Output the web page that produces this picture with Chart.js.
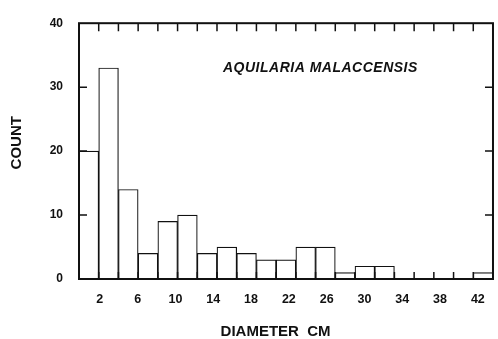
<!DOCTYPE html>
<html>
<head>
<meta charset="utf-8">
<script src="https://cdn.jsdelivr.net/npm/chart.js@4"></script>
<style>
  body { margin: 0; background: #fff; }
  #wrap { width: 498px; height: 339px; }
</style>
</head>
<body>
<div id="wrap"><canvas id="chartContainer"></canvas></div>
<script>
// bin centres (cm), bins are 2 cm wide
var diameters = [1, 3, 5, 7, 9, 11, 13, 15, 17, 19, 21, 23, 25, 27, 29, 31, 33, 35, 37, 39, 41];
var counts    = [20, 33, 14, 4, 9, 10, 4, 5, 4, 3, 3, 5, 5, 1, 2, 2, 0, 0, 0, 0, 1];
var xTickLabels = [2, 6, 10, 14, 18, 22, 26, 30, 34, 38, 42];
var yTickLabels = [0, 10, 20, 30, 40];
var species = 'AQUILARIA MALACCENSIS';

var ink = '#111';
var font = '"Liberation Sans", Arial, sans-serif';

// box round the plot with inward tick marks, plus species name
var frame = {
  id: 'frame',
  afterDatasetsDraw: function(chart) {
    var ctx = chart.ctx;
    var a = chart.chartArea;
    var x = chart.scales.x, y = chart.scales.y;
    ctx.save();
    ctx.strokeStyle = ink;
    ctx.lineWidth = 2;
    ctx.strokeRect(a.left, a.top, a.right - a.left, a.bottom - a.top);
    ctx.lineWidth = 1.5;
    ctx.beginPath();
    for (var v = 2; v < 42; v += 2) {
      var px = x.getPixelForValue(v);
      ctx.moveTo(px, a.top); ctx.lineTo(px, a.top + 8);
      ctx.moveTo(px, a.bottom); ctx.lineTo(px, a.bottom - 7);
    }
    for (var w = 10; w < 40; w += 10) {
      var py = y.getPixelForValue(w);
      ctx.moveTo(a.left, py); ctx.lineTo(a.left + 8, py);
      ctx.moveTo(a.right, py); ctx.lineTo(a.right - 8, py);
    }
    ctx.stroke();
    ctx.font = 'italic bold 14px ' + font;
    ctx.letterSpacing = '0.5px';
    ctx.fillStyle = ink;
    ctx.textBaseline = 'middle';
    ctx.fillText(species, a.left + 144, a.top + 45);
    ctx.restore();
  }
};

var data = [];
for (var i = 0; i < diameters.length; i++) {
  data.push({x: diameters[i], y: counts[i]});
}

var ctx = document.getElementById('chartContainer').getContext('2d');
var myChart = new Chart(ctx, {
  type: 'bar',
  data: {
    datasets: [{
      data: data,
      backgroundColor: '#fff',
      borderColor: ink,
      borderWidth: 1.2,
      barPercentage: 1,
      categoryPercentage: 1
    }]
  },
  options: {
    responsive: true,
    maintainAspectRatio: false,
    animation: false,
    layout: { padding: { top: 15, right: 1, left: 0, bottom: 0 } },
    plugins: { legend: { display: false }, tooltip: { enabled: false } },
    scales: {
      x: {
        type: 'linear',
        display: false,
        min: 0,
        max: 42,
        offset: false
      },
      xl: {
        type: 'linear',
        position: 'bottom',
        min: -0.2,
        max: 43.6,
        offset: false,
        afterBuildTicks: function(s) {
          s.ticks = xTickLabels.map(function(v) { return {value: v}; });
        },
        afterFit: function(s) { s.height = 60; },
        grid: { display: false, drawTicks: false },
        border: { display: false },
        ticks: {
          color: ink,
          padding: 13,
          maxRotation: 0,
          autoSkip: false,
          font: { family: font, weight: 'bold', size: 12.5 }
        },
        title: {
          display: true,
          text: 'DIAMETER  CM     ',
          color: ink,
          padding: { top: 0, bottom: 0 },
          font: { family: font, weight: 'bold', size: 15, lineHeight: 1 }
        }
      },
      y: {
        min: 0,
        max: 40,
        afterBuildTicks: function(s) {
          s.ticks = yTickLabels.map(function(v) { return {value: v}; });
        },
        afterFit: function(s) { s.width = 79; },
        grid: { display: false, drawTicks: false },
        border: { display: false },
        ticks: {
          color: ink,
          padding: 16,
          font: { family: font, weight: 'bold', size: 12 }
        },
        title: {
          display: true,
          text: '    COUNT',
          color: ink,
          padding: { top: 9, bottom: 0 },
          font: { family: font, weight: 'bold', size: 15, lineHeight: 1 }
        }
      }
    }
  },
  plugins: [frame]
});
</script>
</body>
</html>
